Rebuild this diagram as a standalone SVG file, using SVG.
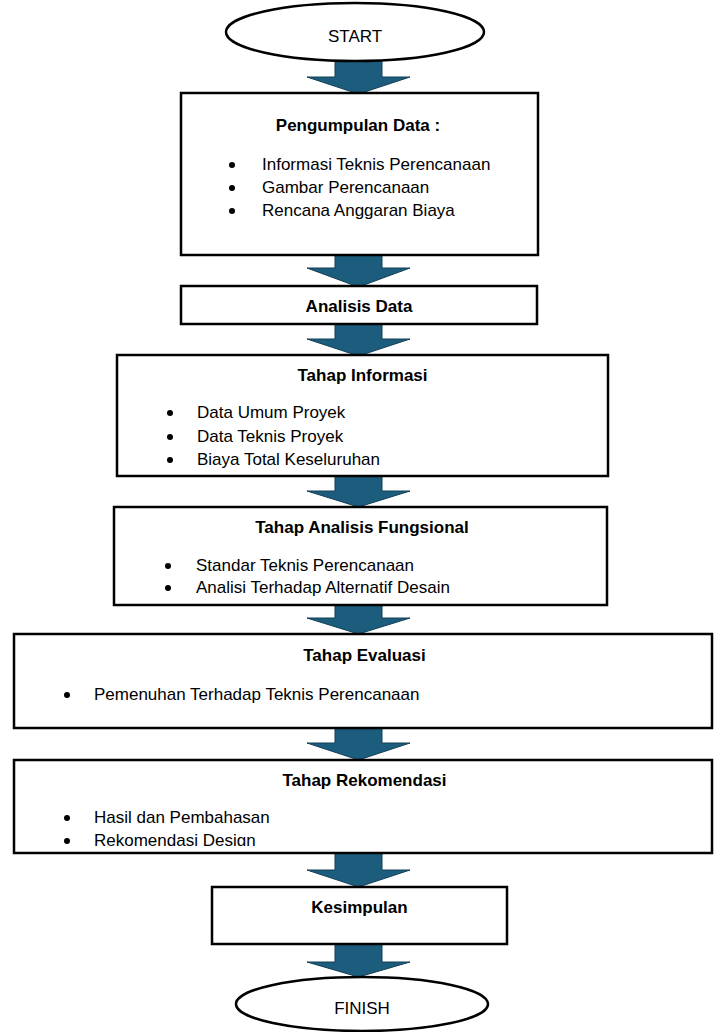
<svg xmlns="http://www.w3.org/2000/svg" width="719" height="1032" viewBox="0 0 719 1032">
<style>
.box{fill:#ffffff;stroke:#000000;stroke-width:2.5}
.ell{fill:#ffffff;stroke:#000000;stroke-width:2.5}
.arr{fill:#1c5d7e;stroke:#123e55;stroke-width:1}
.t{font-family:"Liberation Sans",Arial,sans-serif;font-size:17px;fill:#000000}
.b{font-weight:bold;text-anchor:middle}
.c{text-anchor:middle}
.dot{fill:#000000}
</style>
<defs>
<clipPath id="clipRek"><rect x="15" y="761" width="696" height="85"/></clipPath>
</defs>
<rect width="719" height="1032" fill="#ffffff"/>
<g id="connectors">
<path class="arr" d="M335,60 H382 V77 H410 L358.5,94 L307,77 H335 Z"/>
<path class="arr" d="M335,255 H382 V268 H410 L358.5,287 L307,268 H335 Z"/>
<path class="arr" d="M335,324 H382 V339 H410 L358.5,356 L307,339 H335 Z"/>
<path class="arr" d="M335,476 H382 V491 H410 L358.5,507 L307,491 H335 Z"/>
<path class="arr" d="M335,605 H382 V618 H410 L358.5,634 L307,618 H335 Z"/>
<path class="arr" d="M335,728 H382 V743 H410 L358.5,760 L307,743 H335 Z"/>
<path class="arr" d="M335,853 H382 V870 H410 L358.5,887 L307,870 H335 Z"/>
<path class="arr" d="M335,944 H382 V962 H410 L358.5,977 L307,962 H335 Z"/>
</g>
<g id="start">
<ellipse class="ell" cx="355" cy="32" rx="129" ry="29"/>
<text class="t c" x="355" y="42">START</text>
</g>
<g id="pengumpulan">
<rect class="box" x="181" y="93" width="357" height="162"/>
<text class="t b" x="358" y="131">Pengumpulan Data :</text>
<circle class="dot" cx="232" cy="165" r="3"/>
<circle class="dot" cx="232" cy="188" r="3"/>
<circle class="dot" cx="232" cy="211" r="3"/>
<text class="t" x="262" y="170">Informasi Teknis Perencanaan</text>
<text class="t" x="262" y="193">Gambar Perencanaan</text>
<text class="t" x="262" y="216">Rencana Anggaran Biaya</text>
</g>
<g id="analisis-data">
<rect class="box" x="181" y="286" width="356" height="38"/>
<text class="t b" x="359" y="312">Analisis Data</text>
</g>
<g id="tahap-informasi">
<rect class="box" x="117" y="355" width="491" height="121"/>
<text class="t b" x="362.5" y="381">Tahap Informasi</text>
<circle class="dot" cx="170" cy="413" r="3"/>
<circle class="dot" cx="170" cy="437" r="3"/>
<circle class="dot" cx="170" cy="460" r="3"/>
<text class="t" x="197" y="418">Data Umum Proyek</text>
<text class="t" x="197" y="442">Data Teknis Proyek</text>
<text class="t" x="197" y="465">Biaya Total Keseluruhan</text>
</g>
<g id="tahap-analisis-fungsional">
<rect class="box" x="114" y="507" width="493" height="98"/>
<text class="t b" x="362" y="533">Tahap Analisis Fungsional</text>
<circle class="dot" cx="168" cy="566" r="3"/>
<circle class="dot" cx="168" cy="588" r="3"/>
<text class="t" x="196" y="571">Standar Teknis Perencanaan</text>
<text class="t" x="196" y="593">Analisi Terhadap Alternatif Desain</text>
</g>
<g id="tahap-evaluasi">
<rect class="box" x="14" y="634" width="698" height="94"/>
<text class="t b" x="364.5" y="661">Tahap Evaluasi</text>
<circle class="dot" cx="67" cy="695" r="3"/>
<text class="t" x="94" y="700">Pemenuhan Terhadap Teknis Perencanaan</text>
</g>
<g id="tahap-rekomendasi">
<rect class="box" x="14" y="760" width="698" height="93"/>
<text class="t b" x="364.5" y="786">Tahap Rekomendasi</text>
<circle class="dot" cx="67" cy="818" r="3"/>
<circle class="dot" cx="67" cy="841" r="3"/>
<text class="t" x="94" y="823">Hasil dan Pembahasan</text>
<text class="t" x="94" y="846" clip-path="url(#clipRek)">Rekomendasi Design</text>
</g>
<g id="kesimpulan">
<rect class="box" x="212" y="887" width="295" height="57"/>
<text class="t b" x="359.5" y="913">Kesimpulan</text>
</g>
<g id="finish">
<ellipse class="ell" cx="362" cy="1004" rx="126" ry="27"/>
<text class="t c" x="362" y="1014">FINISH</text>
</g>
</svg>
